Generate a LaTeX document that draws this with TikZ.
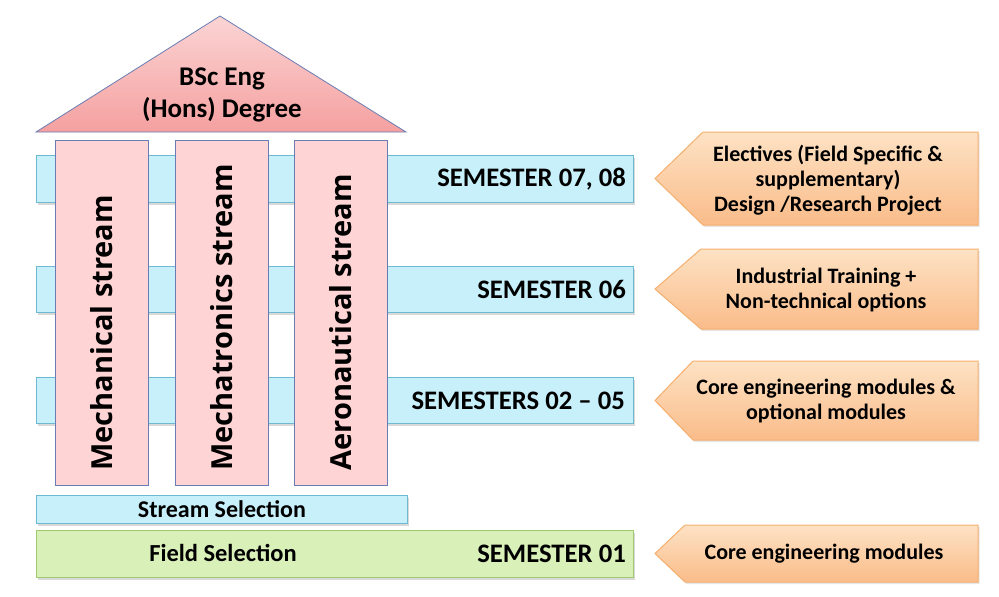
\documentclass[tikz,border=0pt]{standalone}
\usepackage{fontspec}
\setmainfont{Carlito}
\newfontfamily\streamfont{Open Sans}
\usetikzlibrary{shadows}
\definecolor{bandfill}{RGB}{200,240,250}
\definecolor{banddraw}{RGB}{110,185,210}
\definecolor{colfill}{RGB}{255,212,212}
\definecolor{coldraw}{RGB}{105,125,180}
\definecolor{rooftop}{RGB}{251,212,212}
\definecolor{roofbot}{RGB}{245,160,160}
\definecolor{opttop}{RGB}{253,226,196}
\definecolor{optbot}{RGB}{250,188,138}
\definecolor{optdraw}{RGB}{245,175,110}
\definecolor{fieldfill}{RGB}{218,240,185}
\definecolor{fielddraw}{RGB}{160,200,110}
\tikzset{
  band/.style = {draw = banddraw, fill = bandfill, line width = 1pt, inner sep = 0,
    drop shadow = {shadow xshift = 1.5pt, shadow yshift = -2pt, opacity = 0.3}},
  column/.style = {draw = coldraw, fill = colfill, line width = 0.8pt, inner sep = 0,
    minimum width = 93pt, minimum height = 345pt},
  field/.style = {draw = fielddraw, fill = fieldfill, line width = 1pt, inner sep = 0,
    drop shadow = {shadow xshift = 1.5pt, shadow yshift = -2pt, opacity = 0.3}},
  optbox/.style = {draw = optdraw, top color = opttop, bottom color = optbot, line width = 1pt,
    drop shadow = {shadow xshift = 1.5pt, shadow yshift = -2pt, opacity = 0.2}},
  semtext/.style = {font = \fontsize{26.7}{30}\selectfont\bfseries, inner sep = 0},
  opttext/.style = {font = \fontsize{22}{25}\selectfont\bfseries, align = center, inner sep = 0},
  streamtext/.style = {font = \streamfont\fontsize{29}{32}\selectfont\bfseries, inner sep = 0}
}

\begin{document}
\begin{tikzpicture}[x = 1pt, y = -1pt]
  \useasboundingbox (0, 0) rectangle (999, 597);

  % semester bands behind the columns
  \node [band, anchor = north west, minimum width = 597pt, minimum height = 47pt] (sem78) at (36, 155) {};
  \node [band, anchor = north west, minimum width = 597pt, minimum height = 46pt] (sem6) at (36, 266) {};
  \node [band, anchor = north west, minimum width = 597pt, minimum height = 46pt] (sem25) at (36, 377) {};
  \node [semtext, anchor = east] (sem78 label) at ([xshift = -8pt] sem78.east) {SEMESTER 07, 08};
  \node [semtext, anchor = east] (sem6 label) at ([xshift = -8pt] sem6.east) {SEMESTER 06};
  \node [semtext, anchor = east] (sem25 label) at ([xshift = -9pt] sem25.east) {SEMESTERS 02 -- 05};

  % roof
  \draw [draw = coldraw, line width = 0.8pt, top color = rooftop, bottom color = roofbot]
    (36, 132) -- (220, 16) -- (406, 132) -- cycle;
  \node [font = \fontsize{27}{32}\selectfont\bfseries, align = center, inner sep = 0] (degree) at (222, 95) {BSc Eng\\(Hons) Degree};

  % columns
  \foreach \x/\n/\t in {55/mech/Mechanical, 175/mechtr/Mechatronics, 294/aero/Aeronautical} {
    \node [column, anchor = north west] (\n) at (\x, 140) {};
    \node [streamtext, rotate = 90, anchor = west] (\n text) at ([yshift = 15pt] \n.south) {\t\ stream};
  }

  % base
  \node [band, anchor = north west, minimum width = 371pt, minimum height = 28pt] (stream) at (36, 495) {};
  \node [font = \fontsize{24}{28}\selectfont\bfseries, inner sep = 0] (stream label) at (stream.center) {Stream Selection};
  \node [field, anchor = north west, minimum width = 597pt, minimum height = 47pt] (sem1) at (36, 530) {};
  \node [font = \fontsize{24.5}{28}\selectfont\bfseries, inner sep = 0] (field label) at (223, 553) {Field Selection};
  \node [semtext, anchor = east] (sem1 label) at ([xshift = -8pt] sem1.east) {SEMESTER 01};

  % content arrows
  \foreach \t/\b/\w in {132/225/48, 249/329/46, 361/440/38, 525/582/30} {
    \draw [optbox] (655, {(\t + \b) / 2}) -- (655 + \w, \t) -- (978, \t) -- (978, \b) -- (655 + \w, \b) -- cycle;
  }
  \node [opttext] (elect) at (828, 180) {Electives (Field Specific \&\\supplementary)\\Design /Research Project};
  \node [opttext] (train) at (826, 290) {Industrial Training +\\Non-technical options};
  \node [opttext] (core) at (826, 401) {Core engineering modules \&\\optional modules};
  \node [opttext] (basic) at (824, 554) {Core engineering modules};
\end{tikzpicture}
\end{document}
